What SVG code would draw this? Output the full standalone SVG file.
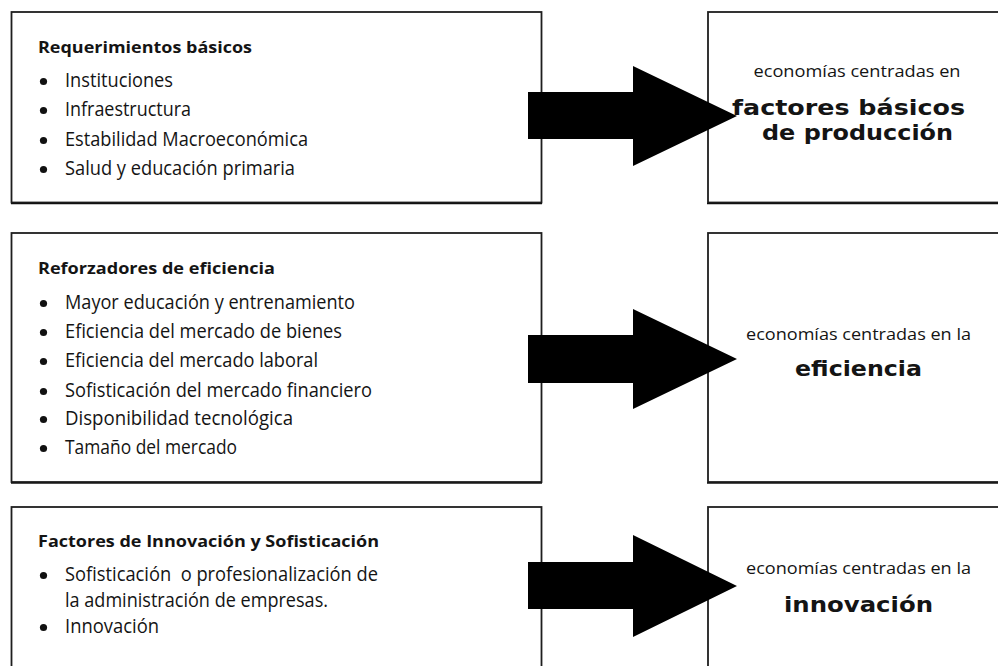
<svg xmlns="http://www.w3.org/2000/svg" width="998" height="666" viewBox="0 0 998 666">
<style>
.box{fill:#fff;stroke:#1e1e1e;stroke-width:1.8}
.shadow{stroke:#111;stroke-width:1.6}
.t{font-family:"Open Sans","Liberation Sans",sans-serif;fill:#141414}
.h{font-size:16.5px;font-weight:bold}
.b{font-size:20px}
.s{font-size:17px}
.big{font-family:"DejaVu Sans","Liberation Sans",sans-serif;font-size:21px;font-weight:bold}
.dot{fill:#111}
.arrow{fill:#000}
</style>
<rect width="998" height="666" fill="#fff"/>

<g id="req-basicos">
<rect class="box" x="11.5" y="12" width="530" height="190.5"/>
<line class="shadow" x1="11" y1="203.5" x2="542" y2="203.5"/>
<text class="t h" x="38" y="52.5" textLength="214" lengthAdjust="spacingAndGlyphs">Requerimientos básicos</text>
<circle class="dot" cx="43.5" cy="81.5" r="3.6"/>
<text class="t b" x="65" y="87" textLength="108" lengthAdjust="spacingAndGlyphs">Instituciones</text>
<circle class="dot" cx="43.5" cy="110.5" r="3.6"/>
<text class="t b" x="65" y="116" textLength="126" lengthAdjust="spacingAndGlyphs">Infraestructura</text>
<circle class="dot" cx="43.5" cy="140.5" r="3.6"/>
<text class="t b" x="65" y="146" textLength="243" lengthAdjust="spacingAndGlyphs">Estabilidad Macroeconómica</text>
<circle class="dot" cx="43.5" cy="169.5" r="3.6"/>
<text class="t b" x="65" y="175" textLength="230" lengthAdjust="spacingAndGlyphs">Salud y educación primaria</text>
</g>

<g id="res-basicos">
<rect class="box" x="708" y="12" width="300" height="190.5"/>
<line class="shadow" x1="707" y1="203.5" x2="998" y2="203.5"/>
<text class="t s" x="857" y="77" text-anchor="middle" textLength="207" lengthAdjust="spacingAndGlyphs">economías centradas en</text>
<text class="big" fill="#141414" x="848.5" y="114.5" text-anchor="middle" textLength="233" lengthAdjust="spacingAndGlyphs">factores básicos</text>
<text class="big" fill="#141414" x="857.5" y="139.5" text-anchor="middle" textLength="191" lengthAdjust="spacingAndGlyphs">de producción</text>
</g>

<g id="ref-eficiencia">
<rect class="box" x="11.5" y="233" width="530" height="249"/>
<line class="shadow" x1="11" y1="483" x2="542" y2="483"/>
<text class="t h" x="38" y="274" textLength="237" lengthAdjust="spacingAndGlyphs">Reforzadores de eficiencia</text>
<circle class="dot" cx="43.5" cy="303.5" r="3.6"/>
<text class="t b" x="65" y="309" textLength="290" lengthAdjust="spacingAndGlyphs">Mayor educación y entrenamiento</text>
<circle class="dot" cx="43.5" cy="332.5" r="3.6"/>
<text class="t b" x="65" y="338" textLength="277" lengthAdjust="spacingAndGlyphs">Eficiencia del mercado de bienes</text>
<circle class="dot" cx="43.5" cy="361.5" r="3.6"/>
<text class="t b" x="65" y="367" textLength="253" lengthAdjust="spacingAndGlyphs">Eficiencia del mercado laboral</text>
<circle class="dot" cx="43.5" cy="391.5" r="3.6"/>
<text class="t b" x="65" y="397" textLength="307" lengthAdjust="spacingAndGlyphs">Sofisticación del mercado financiero</text>
<circle class="dot" cx="43.5" cy="419.5" r="3.6"/>
<text class="t b" x="65" y="425" textLength="228" lengthAdjust="spacingAndGlyphs">Disponibilidad tecnológica</text>
<circle class="dot" cx="43.5" cy="448.5" r="3.6"/>
<text class="t b" x="65" y="454" textLength="172" lengthAdjust="spacingAndGlyphs">Tamaño del mercado</text>
</g>

<g id="res-eficiencia">
<rect class="box" x="708" y="233" width="300" height="249"/>
<line class="shadow" x1="707" y1="483" x2="998" y2="483"/>
<text class="t s" x="858.5" y="340" text-anchor="middle" textLength="225" lengthAdjust="spacingAndGlyphs">economías centradas en la</text>
<text class="big" fill="#141414" x="858.5" y="376" text-anchor="middle" textLength="127" lengthAdjust="spacingAndGlyphs">eficiencia</text>
</g>

<g id="fac-innovacion">
<rect class="box" x="11.5" y="507" width="530" height="180"/>
<text class="t h" x="38" y="547" textLength="341" lengthAdjust="spacingAndGlyphs">Factores de Innovación y Sofisticación</text>
<circle class="dot" cx="43.5" cy="575.5" r="3.6"/>
<text class="t b" x="65" y="581" textLength="313" lengthAdjust="spacingAndGlyphs" xml:space="preserve">Sofisticación  o profesionalización de</text>
<text class="t b" x="65" y="607" textLength="263" lengthAdjust="spacingAndGlyphs">la administración de empresas.</text>
<circle class="dot" cx="43.5" cy="627.5" r="3.6"/>
<text class="t b" x="65" y="633" textLength="94" lengthAdjust="spacingAndGlyphs">Innovación</text>
</g>

<g id="res-innovacion">
<rect class="box" x="708" y="507" width="300" height="180"/>
<text class="t s" x="858.5" y="574" text-anchor="middle" textLength="225" lengthAdjust="spacingAndGlyphs">economías centradas en la</text>
<text class="big" fill="#141414" x="858.5" y="612" text-anchor="middle" textLength="149" lengthAdjust="spacingAndGlyphs">innovación</text>
</g>

<g id="connectors">
<polygon class="arrow" points="528,92 633,92 633,66 737,116 633,166 633,139 528,139"/>
<polygon class="arrow" points="528,335 633,335 633,309 737,359 633,409 633,383 528,383"/>
<polygon class="arrow" points="528,562 633,562 633,535 737,586 633,637 633,609 528,609"/>
</g>
</svg>
